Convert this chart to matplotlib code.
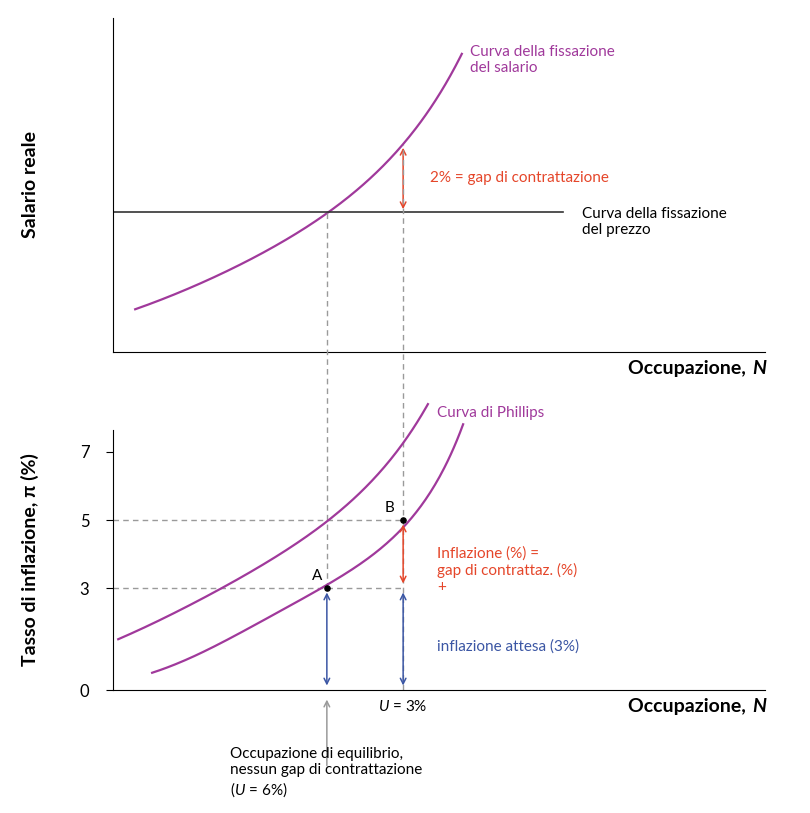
import matplotlib
matplotlib.use("Agg")
import numpy as np
import matplotlib.pyplot as plt

plt.rcParams["font.family"] = "Lato"
plt.rcParams["mathtext.fontset"] = "custom"
plt.rcParams["mathtext.it"] = "Lato:italic"
plt.rcParams["mathtext.rm"] = "Lato"

PURPLE = "#a0399b"
RED = "#e5462a"
BLUE = "#3b56a4"
GREY = "#9a9a9a"

# ---------------------------------------------------------------------------
# Data (x = employment on a 0-100 scale)
# ---------------------------------------------------------------------------
wage_x = [3.4, 13.3, 22.5, 32.8, 39.4, 44.5, 48.6, 53.5]
wage_y = [43, 67, 99, 140, 172, 207, 242, 300]
price_level = 140
price_x = [0, 69]

phillips_hi_x = [0.8, 13.3, 22.5, 32.8, 39.4, 44.5, 48.3]
phillips_hi_y = [1.5, 2.6, 3.7, 5.0, 6.0, 7.2, 8.5]
phillips_lo_x = [6.0, 13.3, 22.5, 32.8, 39.4, 44.5, 49.4, 53.7]
phillips_lo_y = [0.5, 1.1, 2.0, 3.0, 3.8, 5.0, 6.2, 7.6]

N_eq = 32.8      # equilibrium employment, point A
N_b = 44.5       # employment at U = 3%, point B
infl_expected = 3
infl_b = 5
y_ticks = [0, 3, 5, 7]

W, H = 810, 813
fig = plt.figure(figsize=(W / 100, H / 100), dpi=100)


def px(x, y):
    return x / W, 1 - y / H


def ftext(x, y, s, **kw):
    fig.text(*px(x, y), s, **kw)


def smooth(ax, xs, ys, **kw):
    # draw a smooth curve through the read-off points (log-cubic fit)
    c = np.polyfit(xs, np.log(ys), 3)
    xx = np.linspace(xs[0], xs[-1], 200)
    ax.plot(xx, np.exp(np.polyval(c, xx)), **kw)


# ---------------------------------------------------------------------------
# Top panel: wage- and price-setting
# ---------------------------------------------------------------------------
ax1 = fig.add_axes([113 / W, 1 - 352 / H, 652 / W, 334 / H])
ax1.set_xlim(0, 100)
ax1.set_ylim(0, 334)
for s in ["top", "right"]:
    ax1.spines[s].set_visible(False)
ax1.set_xticks([])
ax1.set_yticks([])
smooth(ax1, wage_x, wage_y, color=PURPLE, lw=1.6)
ax1.plot(price_x, [price_level] * 2, color="#333333", lw=1.2)
ax1.annotate("", xy=(N_b, wage_y[5]), xytext=(N_b, price_level),
             arrowprops=dict(arrowstyle="<->", color=RED, lw=1.1))

# ---------------------------------------------------------------------------
# Bottom panel: Phillips curves
# ---------------------------------------------------------------------------
ax2 = fig.add_axes([113 / W, 1 - 690 / H, 652 / W, 303 / H])
ax2.set_xlim(0, 100)
ax2.set_ylim(0, 303 / 34)
for s in ["top", "right"]:
    ax2.spines[s].set_visible(False)
ax2.spines["left"].set_bounds(0, 260 / 34)
ax2.set_xticks([])
ax2.set_yticks(y_ticks)
ax2.set_yticklabels([str(t) for t in y_ticks], fontsize=12)
ax2.tick_params(axis="y", length=5, pad=12)
smooth(ax2, phillips_hi_x, phillips_hi_y, color=PURPLE, lw=1.6)
smooth(ax2, phillips_lo_x, phillips_lo_y, color=PURPLE, lw=1.6)

dash = dict(color=GREY, lw=1, ls=(0, (4, 3)), clip_on=False, zorder=1)
ax2.plot([N_eq, N_eq], [infl_expected, (690 - 212) / 34], **dash)
ax2.plot([N_b, N_b], [0, (690 - 145) / 34], **dash)
ax2.plot([0, N_b], [infl_b, infl_b], **dash)
ax2.plot([0, N_b], [infl_expected, infl_expected], **dash)

ax2.scatter([N_eq, N_b], [infl_expected, infl_b], s=14, color="black", zorder=5)
ax2.annotate("", xy=(N_b, infl_expected + 0.05), xytext=(N_b, infl_b - 0.05),
             arrowprops=dict(arrowstyle="<->", color=RED, lw=1.1))
for xx in [N_eq, N_b]:
    ax2.annotate("", xy=(xx, 0.05), xytext=(xx, infl_expected - 0.05),
                 arrowprops=dict(arrowstyle="<->", color=BLUE, lw=1.1))
ax2.annotate("", xy=(N_eq, -0.2), xytext=(N_eq, -2.3), annotation_clip=False,
             arrowprops=dict(arrowstyle="->", color=GREY, lw=1.1))

# ---------------------------------------------------------------------------
# Labels
# ---------------------------------------------------------------------------
ftext(30, 185, "Salario reale", rotation=90, ha="center", va="center",
      fontsize=14, fontweight="bold")
ftext(30, 560, "Tasso di inflazione, π (%)", rotation=90, ha="center",
      va="center", fontsize=14, fontweight="bold")
for yy in [368, 706]:
    ftext(751, yy, "Occupazione, ", ha="right", va="center", fontsize=14,
          fontweight="bold")
    ftext(752, yy, "N", ha="left", va="center", fontsize=14,
          fontweight="bold", fontstyle="italic")

ftext(470, 60, "Curva della fissazione\ndel salario", color=PURPLE,
      fontsize=11, va="center", linespacing=1.2)
ftext(430, 178, "2% = gap di contrattazione", color=RED, fontsize=11,
      va="center")
ftext(582, 222, "Curva della fissazione\ndel prezzo", color="black",
      fontsize=11, va="center", linespacing=1.2)
ftext(437, 413, "Curva di Phillips", color=PURPLE, fontsize=11, va="center")
ftext(390, 508, "B", fontsize=11, ha="center", va="center")
ftext(317, 576, "A", fontsize=11, ha="center", va="center")
ftext(437, 570, "Inflazione (%) =\ngap di contrattaz. (%)\n+", color=RED,
      fontsize=11, va="center", linespacing=1.2)
ftext(437, 647, "inflazione attesa (3%)", color=BLUE, fontsize=11,
      va="center")
ftext(403, 706, "$U$ = 3%", fontsize=11, ha="center", va="center")
ftext(230, 773, "Occupazione di equilibrio,\nnessun gap di contrattazione\n($U$ = 6%)",
      fontsize=11, va="center", linespacing=1.2)

fig.savefig("out.png", dpi=100, facecolor="white")
